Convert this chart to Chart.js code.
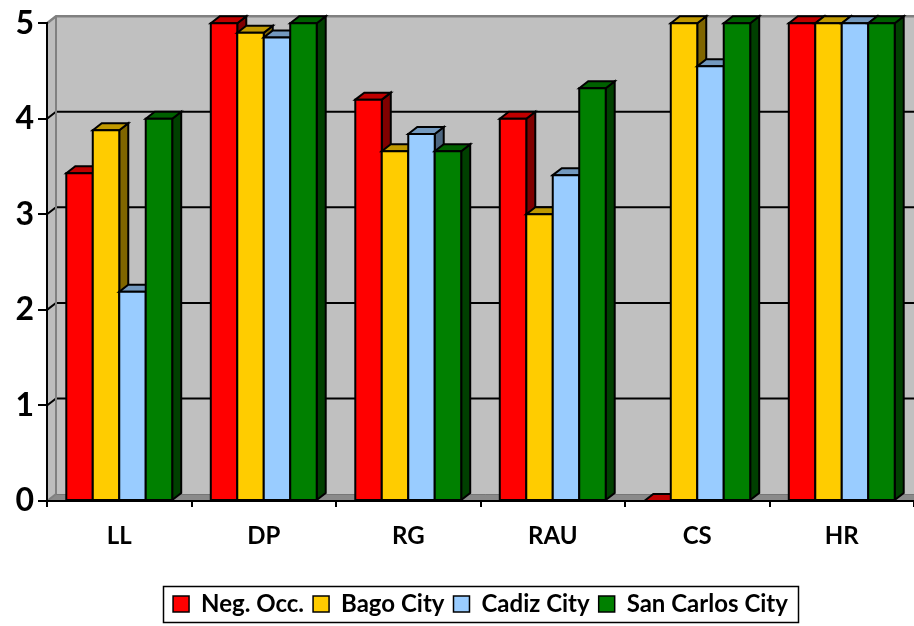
<!DOCTYPE html>
<html>
<head>
<meta charset="utf-8">
<style>
  html, body { margin: 0; padding: 0; background: #ffffff; }
  #wrap { width: 914px; height: 626px; }
</style>
<script src="https://cdn.jsdelivr.net/npm/chart.js@4/dist/chart.umd.min.js"></script>
</head>
<body>
<div id="wrap"><canvas id="chart" width="914" height="626"></canvas></div>
<script>
// Indicator categories along the x axis
const categories = ['LL', 'DP', 'RG', 'RAU', 'CS', 'HR'];

// Mean ratings per area
const negOcc        = [3.43, 5.00, 4.20, 4.00, 0.00, 5.00];
const bagoCity      = [3.88, 4.90, 3.66, 3.00, 5.00, 5.00];
const cadizCity     = [2.19, 4.85, 3.84, 3.41, 4.55, 5.00];
const sanCarlosCity = [4.00, 5.00, 3.66, 4.32, 5.00, 5.00];

const seriesNames = ['Neg. Occ.', 'Bago City', 'Cadiz City', 'San Carlos City'];
const yTickValues = [0, 1, 2, 3, 4, 5];

// Face colours for each series: front, top, side
const palette = [
  { front: '#FF0000', top: '#C00000', side: '#800000' },
  { front: '#FFCC00', top: '#C09900', side: '#806600' },
  { front: '#99CCFF', top: '#7399BF', side: '#4D6680' },
  { front: '#008000', top: '#006000', side: '#004000' }
];

// Projection offset of the 3-D depth (px right, px up)
const DEPTH_X = 9;
const DEPTH_Y = 7;

const FONT = 'Lato, "Open Sans", "DejaVu Sans", sans-serif';

function poly(ctx, pts, fill, stroke, lw) {
  ctx.beginPath();
  ctx.moveTo(pts[0][0], pts[0][1]);
  for (let i = 1; i < pts.length; i++) ctx.lineTo(pts[i][0], pts[i][1]);
  ctx.closePath();
  if (fill) { ctx.fillStyle = fill; ctx.fill(); }
  if (stroke) { ctx.strokeStyle = stroke; ctx.lineWidth = lw || 1; ctx.lineJoin = 'miter'; ctx.stroke(); }
}

// Back wall, side wall, floor and gridlines drawn behind everything
const wallsPlugin = {
  id: 'walls3d',
  beforeDraw(chart) {
    const ctx = chart.ctx;
    const { left, top, right, bottom } = chart.chartArea;
    const y = chart.scales.y;
    const farRight = chart.width + 20;
    ctx.save();
    // back wall
    ctx.fillStyle = '#C0C0C0';
    ctx.fillRect(left + DEPTH_X, top - DEPTH_Y, farRight - left, bottom - top);
    // left side wall
    poly(ctx, [[left, top], [left + DEPTH_X, top - DEPTH_Y], [left + DEPTH_X, bottom - DEPTH_Y], [left, bottom]], '#BDBDBD');
    // floor
    poly(ctx, [[left, bottom], [left + DEPTH_X, bottom - DEPTH_Y], [farRight, bottom - DEPTH_Y], [farRight, bottom]], '#8A8A8A');
    ctx.strokeStyle = '#767676';
    ctx.lineWidth = 1;
    ctx.beginPath();
    ctx.moveTo(left + DEPTH_X, bottom - DEPTH_Y + 0.5);
    ctx.lineTo(farRight, bottom - DEPTH_Y + 0.5);
    ctx.stroke();
    // gridlines on the back wall with their diagonal on the side wall
    ctx.lineCap = 'butt';
    yTickValues.forEach(v => {
      if (v === 0) return;
      const py = y.getPixelForValue(v);
      const isTop = v === yTickValues[yTickValues.length - 1];
      ctx.strokeStyle = isTop ? '#808080' : '#000000';
      ctx.lineWidth = isTop ? 2.5 : 2;
      ctx.beginPath();
      ctx.moveTo(left, py);
      ctx.lineTo(left + DEPTH_X, py - DEPTH_Y);
      ctx.lineTo(farRight, py - DEPTH_Y);
      ctx.stroke();
    });
    // wall corner
    ctx.strokeStyle = '#808080';
    ctx.lineWidth = 2;
    ctx.beginPath();
    ctx.moveTo(left + DEPTH_X, top - DEPTH_Y);
    ctx.lineTo(left + DEPTH_X, bottom - DEPTH_Y);
    ctx.stroke();
    ctx.beginPath();
    ctx.moveTo(left, bottom);
    ctx.lineTo(left + DEPTH_X, bottom - DEPTH_Y);
    ctx.stroke();
    ctx.restore();
  }
};

// Extruded bar faces: side, top, then front, left to right within each group
const barsPlugin = {
  id: 'bars3d',
  afterDatasetsDraw(chart) {
    const ctx = chart.ctx;
    ctx.save();
    ctx.lineJoin = 'miter';
    const n = chart.data.labels.length;
    for (let i = 0; i < n; i++) {
      chart.data.datasets.forEach((ds, d) => {
        const meta = chart.getDatasetMeta(d);
        const el = meta.data[i];
        if (!el) return;
        const { x, y, base, width } = el.getProps(['x', 'y', 'base', 'width'], true);
        const x0 = x - width / 2, x1 = x + width / 2;
        const c = palette[d];
        // side face
        if (base - y > 0.5) {
          poly(ctx, [[x1, y], [x1 + DEPTH_X, y - DEPTH_Y], [x1 + DEPTH_X, base - DEPTH_Y], [x1, base]], c.side, '#000', 2);
        }
        // top face
        poly(ctx, [[x0, y], [x0 + DEPTH_X, y - DEPTH_Y], [x1 + DEPTH_X, y - DEPTH_Y], [x1, y]], c.top, '#000', 2);
        // front face
        if (base - y > 0.5) {
          poly(ctx, [[x0, y], [x1, y], [x1, base], [x0, base]], c.front, '#000', 2);
        }
      });
    }
    ctx.restore();
  }
};

// Frame around the legend items
const legendFramePlugin = {
  id: 'legendFrame',
  afterDraw(chart) {
    const lg = chart.legend;
    if (!lg || !lg.legendHitBoxes || !lg.legendHitBoxes.length) return;
    const hb = lg.legendHitBoxes;
    const l = Math.min(...hb.map(h => h.left)) - 10;
    const r = Math.max(...hb.map(h => h.left + h.width)) + 10;
    const t = Math.min(...hb.map(h => h.top)) - 6;
    const b = Math.max(...hb.map(h => h.top + h.height)) + 6;
    const ctx = chart.ctx;
    ctx.save();
    ctx.strokeStyle = '#000';
    ctx.lineWidth = 1.5;
    ctx.strokeRect(Math.round(l) + 0.5, Math.round(t) + 0.5, Math.round(r - l), Math.round(b - t));
    ctx.restore();
  }
};

const seriesValues = [negOcc, bagoCity, cadizCity, sanCarlosCity];

new Chart(document.getElementById('chart'), {
  type: 'bar',
  data: {
    labels: categories,
    datasets: seriesValues.map((vals, d) => ({
      label: seriesNames[d],
      data: vals,
      backgroundColor: palette[d].front,
      borderColor: '#000000',
      borderWidth: 0,
      categoryPercentage: 0.733,
      barPercentage: 1.0
    }))
  },
  options: {
    responsive: false,
    animation: false,
    devicePixelRatio: 1,
    layout: { padding: { top: 23, right: 0, left: 0, bottom: 0 } },
    plugins: {
      tooltip: { enabled: false },
      legend: {
        position: 'bottom',
        fullSize: false,
        labels: {
          color: '#000',
          font: { family: FONT, size: 24, weight: 'bold' },
          boxWidth: 16,
          boxHeight: 16,
          padding: 9,
          generateLabels(chart) {
            return chart.data.datasets.map((ds, i) => ({
              text: ds.label,
              fillStyle: palette[i].front,
              strokeStyle: '#000',
              lineWidth: 1.5,
              hidden: false,
              datasetIndex: i,
              fontColor: '#000'
            }));
          }
        }
      }
    },
    scales: {
      x: {
        offset: true,
        grid: { display: true, offset: true, drawOnChartArea: false, drawTicks: true, tickLength: 6, color: '#000', lineWidth: 2 },
        border: { display: true, color: '#000', width: 2 },
        ticks: { color: '#000', font: { family: FONT, size: 24, weight: 'bold' }, padding: 15, maxRotation: 0 },
        afterFit(scale) { scale.height = 82; }
      },
      y: {
        min: 0,
        max: 5,
        afterBuildTicks(scale) { scale.ticks = yTickValues.map(v => ({ value: v })); },
        grid: { display: true, drawOnChartArea: false, drawTicks: true, tickLength: 9, color: '#000', lineWidth: 2 },
        border: { display: true, color: '#000', width: 2 },
        ticks: { color: '#000', font: { family: FONT, size: 32, weight: 'bold' }, padding: 4 },
        afterFit(scale) { scale.width = 47; }
      }
    }
  },
  plugins: [wallsPlugin, barsPlugin, legendFramePlugin]
});
</script>
</body>
</html>
